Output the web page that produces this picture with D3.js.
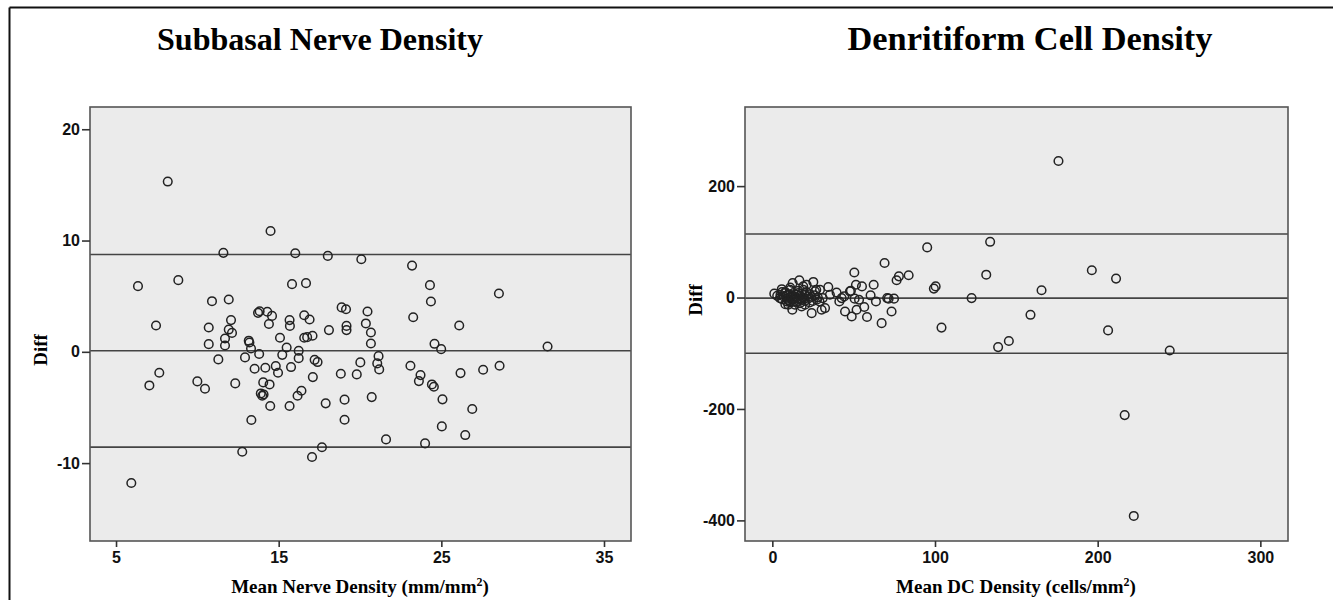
<!DOCTYPE html>
<html>
<head>
<meta charset="utf-8">
<script src="https://cdn.jsdelivr.net/npm/d3@7"></script>
<style>
  body { margin: 0; background: #fff; }
  .title { font-family: "Liberation Serif", "Times New Roman", serif; font-weight: bold; }
  .axlabel { font-family: "Liberation Serif", "Times New Roman", serif; font-weight: bold; font-size: 19px; }
  .tick text { font-family: "Liberation Sans", Arial, sans-serif; font-weight: bold; font-size: 16px; fill: #111; }
</style>
</head>
<body>
<div id="chart"></div>
<script>
var svgWidth = 1333;
var svgHeight = 600;

// Subbasal nerve density: [mean, diff]
var nervePoints = [
  [8.18,15.3],[14.5,10.86],[11.6,8.89],[16.02,8.86],[18.02,8.62],[6.35,5.9],[8.83,6.44],[15.82,6.08],[16.68,6.17],
  [10.9,4.55],[11.93,4.7],[13.73,3.5],[13.83,3.65],[14.3,3.6],[14.59,3.23],[16.57,3.29],[16.9,2.9],[12.07,2.85],
  [14.4,2.5],[15.67,2.85],[15.69,2.33],[7.46,2.37],[10.7,2.19],[11.93,2.0],[12.13,1.7],[18.09,1.95],[11.7,1.2],
  [13.16,1.0],[15.08,1.26],[16.57,1.26],[16.75,1.32],[17.08,1.44],[10.7,0.69],[11.7,0.57],[13.2,0.84],[13.3,0.3],
  [13.8,-0.2],[15.49,0.39],[15.22,-0.27],[16.23,0.09],[16.23,-0.57],[11.29,-0.68],[12.93,-0.5],[17.21,-0.72],
  [17.39,-0.92],[7.66,-1.88],[13.52,-1.52],[14.18,-1.43],[14.82,-1.28],[14.96,-1.88],[15.76,-1.37],[17.1,-2.27],
  [7.05,-3.02],[10.0,-2.66],[10.47,-3.32],[12.33,-2.84],[14.05,-2.75],[14.44,-2.93],[13.9,-3.74],[13.99,-3.95],
  [14.07,-3.83],[16.4,-3.5],[16.16,-3.95],[14.48,-4.87],[15.67,-4.87],[17.89,-4.63],[13.32,-6.13],[12.76,-8.98],
  [17.05,-9.45],[17.66,-8.58],[5.94,-11.79],
  [20.08,8.32],[23.2,7.75],[24.3,5.99],[24.36,4.52],[28.54,5.24],[18.87,3.99],[19.14,3.83],[20.46,3.62],
  [20.36,2.55],[20.67,1.74],[23.27,3.11],[26.1,2.37],[19.17,2.33],[19.17,1.95],[20.67,0.75],[21.14,-0.39],
  [21.06,-1.04],[21.18,-1.58],[24.58,0.72],[24.99,0.24],[31.53,0.48],[20.02,-0.95],[18.82,-1.97],[19.8,-2.03],
  [23.1,-1.25],[23.72,-2.09],[23.62,-2.63],[24.42,-2.93],[24.54,-3.14],[26.18,-1.91],[27.57,-1.61],[28.58,-1.25],
  [19.05,-4.3],[20.72,-4.07],[25.07,-4.27],[26.9,-5.14],[19.05,-6.1],[25.03,-6.7],[21.6,-7.87],[24.0,-8.23],
  [26.47,-7.48]
];
var nerveLimits = [8.74, 0.1, -8.56];
var nerveXTicks = [5, 15, 25, 35];
var nerveYTicks = [-10, 0, 10, 20];

// Dendritiform cell density: [mean, diff]
var dcPoints = [
  [95.2,90],[133.9,100],[69,62],[50.4,45],[83.8,40],[77.8,38],[76.4,31],[131.5,41],[62.3,23],[51.4,23],
  [55.1,20],[100.4,20],[99.3,16],[48.3,12],[60.4,4],[122.5,-1],[50.6,-2],[53.3,-4],[63.7,-7],[70.6,-1],
  [71.5,-2],[74.8,-2],[56.5,-17],[44.7,-25],[51.8,-22],[48.8,-34],[58.2,-35],[73.3,-25],[67.2,-46],[104,-54],
  [145.4,-78],[138.8,-89],[175.9,245],[196.4,49],[211.3,34],[165.5,13],[158.7,-31],[206.4,-59],[244.3,-95],
  [216.6,-211],[222.2,-392],
  [47.7,11],[42.6,-1],[44.2,2],[41.2,-7],[39.5,9],[35.4,5],[34.4,19],[31,-1],[30.3,-22],[32.4,-19],[29.3,14],
  [27.3,-4],[26.2,11],[25.2,28],[24.2,-28],[22.1,2],[21.1,23],[20.1,-13],[19,14],[18,-4],[16,8],[16.6,31],
  [12.5,26],[13.9,-13],[12.3,-22],[12.9,2],[10.9,14],[9.8,-13],[8.8,-7],[7.8,8],[5.8,15],[4.7,-1],[1.2,7],
  [3,3],[5,5],[6,-3],[7,2],[8,10],[9,-2],[9,4],[10,-5],[10,6],[11,0],[11,-9],[12,4],[12,-4],[13,8],[13,-7],
  [14,1],[14,-2],[15,5],[15,-8],[16,-1],[16,12],[17,3],[17,-10],[18,7],[18,-16],[19,0],[20,5],[20,-6],[21,10],
  [22,-2],[23,6],[23,-9],[24,1],[25,-6],[26,4],[27,14],[28,0],[29,-7],[8,-12],[6,10],[11,18],[19,20]
];
var dcLimits = [114, -1, -100];
var dcXTicks = [0, 100, 200, 300];
var dcYTicks = [-400, -200, 0, 200];

var svg = d3.select("#chart").append("svg").attr("width", svgWidth).attr("height", svgHeight);

// outer frame (top and left edges)
svg.append("line").attr("x1", 9.5).attr("x2", svgWidth).attr("y1", 7.5).attr("y2", 7.5).attr("stroke", "#111").attr("stroke-width", 2);
svg.append("line").attr("x1", 9.5).attr("x2", 9.5).attr("y1", 7.5).attr("y2", svgHeight).attr("stroke", "#111").attr("stroke-width", 2);

function drawPanel(cfg) {
    var xScale = d3.scaleLinear().domain(cfg.xDomain).range([cfg.left, cfg.right]);
    var yScale = d3.scaleLinear().domain(cfg.yDomain).range([cfg.bottom, cfg.top]);

    svg.append("rect")
        .attr("x", cfg.left).attr("y", cfg.top)
        .attr("width", cfg.right - cfg.left).attr("height", cfg.bottom - cfg.top)
        .attr("fill", "#ebebeb");

    var g = svg.append("g");
    g.selectAll("line.limit").data(cfg.limits).enter().append("line")
        .attr("class", "limit")
        .attr("x1", cfg.left).attr("x2", cfg.right)
        .attr("y1", d => yScale(d)).attr("y2", d => yScale(d))
        .attr("stroke", "#444").attr("stroke-width", 1.6);

    g.selectAll("circle").data(cfg.points).enter().append("circle")
        .attr("cx", d => xScale(d[0])).attr("cy", d => yScale(d[1]))
        .attr("r", 4.3).attr("fill", "none").attr("stroke", "#222").attr("stroke-width", 1.5);

    svg.append("rect")
        .attr("x", cfg.left).attr("y", cfg.top)
        .attr("width", cfg.right - cfg.left).attr("height", cfg.bottom - cfg.top)
        .attr("fill", "none").attr("stroke", "#555").attr("stroke-width", 1.6);

    // plain hyphen for negatives, like the source
    var fmt = d => String(d);
    var bottomAxis = d3.axisBottom(xScale).tickValues(cfg.xTicks).tickFormat(fmt).tickSize(6).tickPadding(5).tickSizeOuter(0);
    var leftAxis = d3.axisLeft(yScale).tickValues(cfg.yTicks).tickFormat(fmt).tickSize(8).tickPadding(2).tickSizeOuter(0);

    var xAxis = svg.append("g").attr("transform", `translate(0,${cfg.bottom})`).call(bottomAxis);
    var yAxis = svg.append("g").attr("transform", `translate(${cfg.left},0)`).call(leftAxis);
    [xAxis, yAxis].forEach(function(a) {
        a.select(".domain").remove();
        a.selectAll(".tick line").attr("stroke", "#333").attr("stroke-width", 1.6);
    });

    svg.append("text").attr("class", "title").attr("x", cfg.titleX).attr("y", 50)
        .attr("text-anchor", "middle").attr("font-size", cfg.titleSize)
        .attr("textLength", cfg.titleWidth).attr("lengthAdjust", "spacingAndGlyphs")
        .text(cfg.title);

    var xl = svg.append("text").attr("class", "axlabel").attr("x", cfg.xLabelX).attr("y", 593)
        .attr("text-anchor", "middle");
    xl.append("tspan").text(cfg.xLabel);
    xl.append("tspan").attr("font-size", "12px").attr("dy", -7).text("2");
    xl.append("tspan").attr("dy", 7).text(")");

    svg.append("text").attr("class", "axlabel")
        .attr("transform", `translate(${cfg.diffX},${cfg.diffY}) rotate(-90)`)
        .attr("text-anchor", "middle").text("Diff");
}

drawPanel({
    points: nervePoints, limits: nerveLimits, xTicks: nerveXTicks, yTicks: nerveYTicks,
    xDomain: [3.4, 36.66], yDomain: [-17, 22],
    left: 90, right: 631, top: 107, bottom: 541,
    title: "Subbasal Nerve Density", titleX: 320, titleWidth: 326, titleSize: 32,
    xLabel: "Mean Nerve Density (mm/mm", xLabelX: 360,
    diffX: 47, diffY: 350
});

drawPanel({
    points: dcPoints, limits: dcLimits, xTicks: dcXTicks, yTicks: dcYTicks,
    xDomain: [-16.8, 317], yDomain: [-437, 342],
    left: 745, right: 1288, top: 107, bottom: 541,
    title: "Denritiform Cell Density", titleX: 1030, titleWidth: 365, titleSize: 33,
    xLabel: "Mean DC Density (cells/mm", xLabelX: 1016,
    diffX: 702, diffY: 300
});
</script>
</body>
</html>
